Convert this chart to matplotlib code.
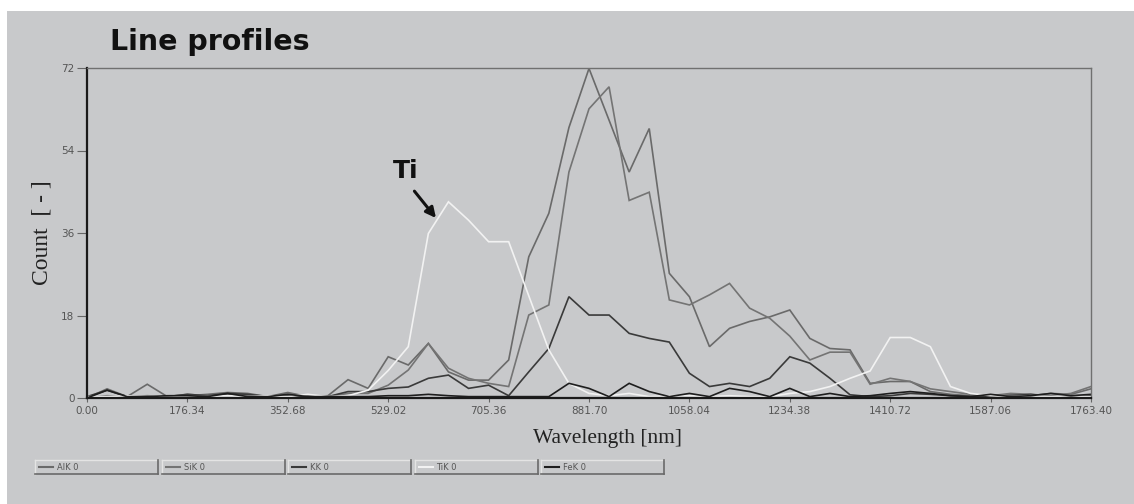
import numpy as np
import matplotlib
matplotlib.use("Agg")
import matplotlib.pyplot as plt
from matplotlib.patches import Rectangle
from matplotlib.lines import Line2D

# x axis: 51 samples over 0 .. 1763.4 nm
wavelength = np.linspace(0, 1763.4, 51)
xticks = np.linspace(0, 1763.4, 11)
yticks = [0, 18, 36, 54, 72]

al = [0, 2.0, 0.3, 3.0, 0.3, 0.5, 0.8, 1.2, 1.0, 0.3, 1.2, 0.3, 0.5, 4.0, 2.1,
      9.0, 7.2, 11.9, 5.7, 3.9, 3.9, 8.3, 30.8, 40.3, 59.0, 71.9, 60.6, 49.3, 58.8, 27.2,
      22.1, 11.2, 15.2, 16.7, 17.7, 19.2, 13.0, 10.8, 10.5, 3.2, 3.6, 3.6, 1.4, 0.8,
      0.5, 0.3, 0.8, 0.5, 1.0, 0.8, 2.0]
si = [0, 0.5, 0.3, 0.5, 0.3, 0.8, 0.5, 0.8, 0.5, 0.3, 0.8, 0.5, 0.3, 1.0, 1.0,
      2.8, 6.1, 11.9, 6.5, 4.3, 3.2, 2.5, 18.1, 20.3, 49.3, 63.1, 67.9, 43.1, 44.9, 21.4,
      20.3, 22.5, 25.0, 19.6, 17.4, 13.5, 8.3, 10.0, 10.0, 3.0, 4.3, 3.6, 2.0, 1.4,
      0.8, 0.5, 1.0, 0.8, 0.5, 1.0, 2.5]
k = [0.3, 1.7, 0.3, 0.3, 0.3, 0.8, 0.5, 1.0, 0.8, 0.3, 0.5, 0.3, 0.3, 1.4, 1.4,
     2.1, 2.4, 4.3, 5.0, 2.1, 2.8, 0.5, 5.7, 10.8, 22.1, 18.1, 18.1, 14.1, 13.0, 12.2,
     5.4, 2.5, 3.2, 2.5, 4.3, 9.0, 7.6, 4.3, 0.7, 0.3, 0.5, 1.0, 0.8, 0.5,
     0.3, 0.3, 0.5, 0.8, 0.3, 0.3, 0.5]
ti = [0.3, 0.3, 0.5, 0.3, 0.5, 0.3, 0.3, 0.5, 0.3, 0.5, 0.3, 0.8, 0.3, 0.5, 1.7,
      6.0, 11.2, 35.9, 42.8, 38.8, 34.1, 34.1, 22.3, 10.5, 3.2, 1.0, 0.5, 1.0, 0.3, 0.5,
      0.5, 0.3, 0.5, 0.3, 0.3, 1.0, 1.4, 2.5, 4.3, 5.9, 13.2, 13.2, 11.2, 2.5,
      1.0, 0.5, 0.3, 0.5, 0.3, 0.5, 0.3]
fe = [0, 1.7, 0.3, 0.3, 0.5, 0.5, 0.3, 1.0, 0.3, 0.3, 0.8, 0.3, 0.3, 0.3, 0.3,
      0.5, 0.5, 0.8, 0.5, 0.3, 0.3, 0.3, 0.3, 0.3, 3.2, 2.1, 0.3, 3.2, 1.4, 0.3,
      1.0, 0.3, 2.1, 1.4, 0.3, 2.1, 0.3, 1.0, 0.3, 0.5, 1.0, 1.4, 1.0, 0.5,
      0.3, 0.8, 0.3, 0.5, 1.0, 0.5, 0.8]

labels = ["AlK 0", "SiK 0", "KK 0", "TiK 0", "FeK 0"]
series = [al, si, k, ti, fe]
colors = ["#6a6a6a", "#747474", "#3a3a3a", "#f2f2f2", "#1e1e1e"]

bg = "#c8c9cb"
narrow = ["Liberation Sans Narrow", "DejaVu Sans"]

fig = plt.figure(figsize=(11.34, 5.04), dpi=100, facecolor="white")
W, H = 1134, 504
# grey panel (white strip on the left and top in the original)
fig.patches.append(Rectangle((7 / W, 0), 1, 1 - 11 / H, transform=fig.transFigure,
                             facecolor=bg, edgecolor="none", zorder=-10))

ax = fig.add_axes([87 / W, 1 - 398 / H, (1091 - 87) / W, (398 - 68) / H])
ax.set_facecolor(bg)

for y, c in zip(series, colors):
    ax.plot(wavelength, y, color=c, lw=1.2, solid_joinstyle="miter")

ax.set_xlim(0, 1763.4)
ax.set_ylim(0, 72)
ax.set_xticks(xticks)
ax.set_xticklabels([f"{v:.2f}" for v in xticks])
ax.set_yticks(yticks)
ax.tick_params(axis="y", direction="out", length=7, width=0.8, color="#666",
               labelsize=7.5, labelcolor="#555", pad=2)
ax.tick_params(axis="x", direction="out", length=3, width=0.8, color="#666",
               labelsize=7.5, labelcolor="#555", pad=3)
for lab in ax.get_xticklabels() + ax.get_yticklabels():
    lab.set_family(narrow)

for s in ["left", "bottom"]:
    ax.spines[s].set_color("#1a1a1a")
    ax.spines[s].set_linewidth(1.6)
for s in ["top", "right"]:
    ax.spines[s].set_color("#707070")
    ax.spines[s].set_linewidth(1.0)

ax.set_xlabel("Wavelength [nm]", family="Liberation Serif", fontsize=15.5,
              color="#222")
ax.xaxis.set_label_coords(0.518, -0.095)
ax.set_ylabel("Count  [ - ]", family="Liberation Serif", fontsize=17,
              color="#222")
ax.yaxis.set_label_coords(-0.034, 0.5)

fig.text(110 / W, 1 - 42 / H, "Line profiles", fontsize=20.5, fontweight="bold",
         family="DejaVu Sans", color="#111", ha="left", va="center")

# Ti annotation
ax.text(560, 49.5, "Ti", fontsize=18, fontweight="bold", family="DejaVu Sans",
        color="#111", ha="center", va="center")
ax.annotate("", xy=(616, 38.8), xytext=(572, 45.6),
            arrowprops=dict(arrowstyle="-|>,head_length=0.6,head_width=0.3",
                            color="#111", lw=2.2))

# button-style legend
bw, bh, by = 123, 14, 460
for i, (lab, c) in enumerate(zip(labels, colors)):
    bx = 35 + i * 126.5
    x0, x1 = bx / W, (bx + bw) / W
    y0, y1 = 1 - (by + bh) / H, 1 - by / H
    fig.patches.append(Rectangle((x0, y0), x1 - x0, y1 - y0, transform=fig.transFigure,
                                 facecolor=bg, edgecolor="none"))
    fig.lines.append(Line2D([x0, x1], [y1, y1], transform=fig.transFigure, color="#e4e4e4", lw=1))
    fig.lines.append(Line2D([x0, x0], [y0, y1], transform=fig.transFigure, color="#e4e4e4", lw=1))
    fig.lines.append(Line2D([x0, x1], [y0, y0], transform=fig.transFigure, color="#6a6a6a", lw=1.2))
    fig.lines.append(Line2D([x1, x1], [y0, y1], transform=fig.transFigure, color="#6a6a6a", lw=1.2))
    ym = (y0 + y1) / 2
    fig.lines.append(Line2D([(bx + 4) / W, (bx + 18) / W], [ym, ym], transform=fig.transFigure,
                            color=c, lw=1.5))
    fig.text((bx + 22) / W, ym, lab, fontsize=6, color="#555", family=narrow,
             ha="left", va="center")

fig.savefig("out.png", dpi=100, facecolor=fig.get_facecolor())
